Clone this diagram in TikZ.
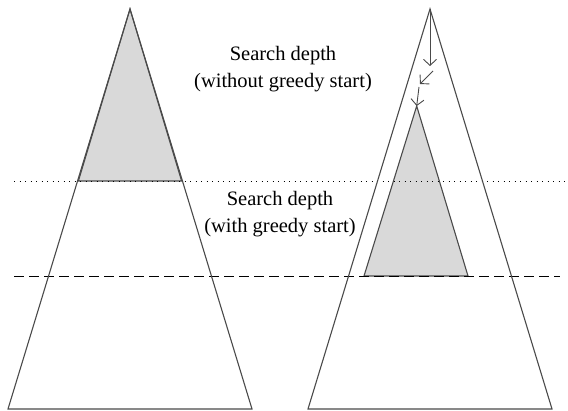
\documentclass[tikz,border=0pt]{standalone}
\usepackage{fontspec}
\setmainfont{Liberation Serif}
\usetikzlibrary{arrows.meta}
\definecolor{edgegray}{HTML}{4A4A4A}
\definecolor{explgray}{HTML}{D9D9D9}
\begin{document}
\begin{tikzpicture}[x=1pt,y=-1pt,
  tree/.style={draw=edgegray,line width=1.1pt,line join=miter},
  explored/.style={draw=edgegray,fill=explgray,line width=1.1pt},
  depthline/.style={line width=0.9pt,black},
  walk/.style={draw=edgegray,line width=0.9pt,-{Straight Barb[length=6pt,width=13pt]}},
  caption/.style={align=center,font=\fontsize{20.5}{27}\selectfont,inner sep=0pt}]
  \useasboundingbox (0,0) rectangle (568,411);

  % left tree: plain search
  \coordinate (La) at (130,9);
  \coordinate (Lb) at (8,409);
  \coordinate (Lc) at (252,409);
  \coordinate (Ls1) at (78.4,181);
  \coordinate (Ls2) at (181.6,181);
  \draw[explored] (La) -- (Ls1) -- (Ls2) -- cycle;

  % right tree: greedy start, then search
  \coordinate (Ra) at (430,9);
  \coordinate (Rb) at (308,409);
  \coordinate (Rc) at (552,409);
  \coordinate (Ia) at (416.7,106);
  \coordinate (Ib) at (364,276);
  \coordinate (Ic) at (468,276);
  \draw[explored] (Ia) -- (Ib) -- (Ic) -- cycle;

  % depth limits
  \coordinate (D1) at (14,181);
  \coordinate (D2) at (566,181);
  \coordinate (E1) at (14,276);
  \coordinate (E2) at (560,276);
  \draw[depthline,dash pattern=on 0.9pt off 4.6pt] (D1) -- (D2);
  \draw[depthline,dash pattern=on 10pt off 5pt] (E1) -- (E2);

  \draw[tree] (La) -- (Lb) -- (Lc) -- cycle;
  \draw[tree] (Ra) -- (Rb) -- (Rc) -- cycle;

  % greedy descent
  \coordinate (g1) at (430,66);
  \coordinate (g2) at (433,71);
  \coordinate (g3) at (420,84);
  \coordinate (g4) at (419,87);
  \draw[walk] (Ra) -- (g1);
  \draw[walk] (g2) -- (g3);
  \draw[walk] (g4) -- (Ia);

  \node[caption] (c1) at (283,69) {Search depth\\(without greedy start)};
  \node[caption] (c2) at (280,214) {Search depth\\(with greedy start)};
\end{tikzpicture}
\end{document}
